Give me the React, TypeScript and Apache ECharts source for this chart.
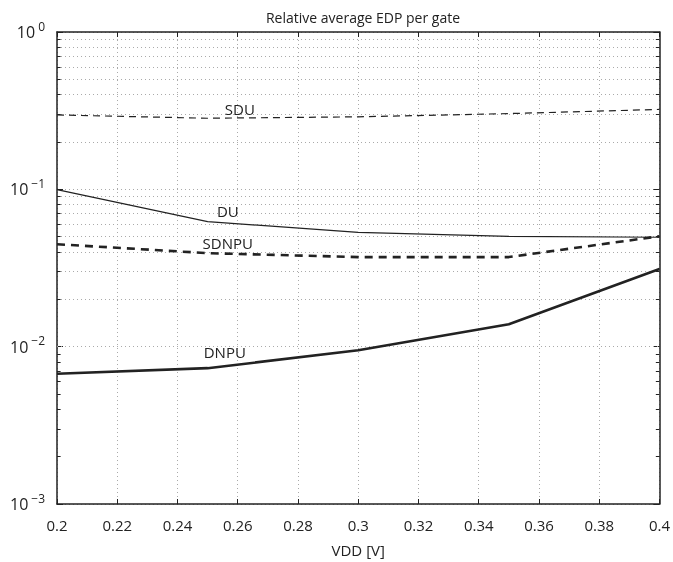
import React, { useEffect, useRef } from "react";
import * as echarts from "echarts";

const vdd = [0.2, 0.25, 0.3, 0.35, 0.4];
const sdu = [0.297, 0.283, 0.289, 0.303, 0.322];
const du = [0.0995, 0.0623, 0.0533, 0.0503, 0.0496];
const sdnpu = [0.0448, 0.0393, 0.0371, 0.0371, 0.0503];
const dnpu = [0.00673, 0.0073, 0.00948, 0.0139, 0.0312];
const minorGridValues = [
  0.002, 0.003, 0.004, 0.005, 0.006, 0.007, 0.008, 0.009,
  0.02, 0.03, 0.04, 0.05, 0.06, 0.07, 0.08, 0.09,
  0.2, 0.3, 0.4, 0.5, 0.6, 0.7, 0.8, 0.9,
];
const seriesNames = ["SDU", "DU", "SDNPU", "DNPU"];
const labelAnchors: [number, number][] = [
  [0.2607, 0.322],
  [0.2567, 0.0723],
  [0.2567, 0.0455],
  [0.2557, 0.0092],
];

const X_MIN = 0.2;
const X_MAX = 0.4;
const FONT = "'Open Sans', 'DejaVu Sans', sans-serif";
const INK = "#222";

export default function App() {
  const ref = useRef<HTMLDivElement>(null);
  useEffect(() => {
    if (!ref.current) return;
    const chart = echarts.init(ref.current, undefined, { renderer: "svg" });
    const pairs = (ys: number[]) => vdd.map((x, i) => [x, ys[i]]);
    const styles = [
      { width: 1.2, type: [7, 5] },
      { width: 1.2, type: "solid" },
      { width: 2.6, type: [8, 6] },
      { width: 2.6, type: "solid" },
    ];
    const values = [sdu, du, sdnpu, dnpu];
    const gridLine = { color: "#aaa", width: 1, type: [1, 3] as number[] };
    const tickLen = (X_MAX - X_MIN) * 0.006;
    const series: any[] = values.map((ys, i) => ({
      name: seriesNames[i],
      type: "line",
      data: pairs(ys),
      showSymbol: false,
      symbol: "none",
      z: 5,
      lineStyle: { color: INK, width: styles[i].width, type: styles[i].type },
      markPoint: {
        silent: true,
        symbol: "circle",
        symbolSize: 1,
        itemStyle: { color: "rgba(0,0,0,0)" },
        label: {
          show: true,
          position: "inside",
          formatter: seriesNames[i],
          color: INK,
          fontFamily: FONT,
          fontSize: 15,
        },
        data: [{ coord: labelAnchors[i] }],
      },
    }));
    series.push({
      type: "line",
      data: [],
      silent: true,
      z: 1,
      markLine: {
        silent: true,
        symbol: ["none", "none"],
        label: { show: false },
        lineStyle: gridLine,
        data: minorGridValues.map((v) => ({ yAxis: v })),
      },
    });
    series.push({
      type: "line",
      data: [],
      silent: true,
      z: 6,
      markLine: {
        silent: true,
        symbol: ["none", "none"],
        label: { show: false },
        lineStyle: { color: INK, width: 1, type: "solid" },
        data: [
          ...minorGridValues.map((v) => [
            { coord: [X_MIN, v] },
            { coord: [X_MIN + tickLen, v] },
          ]),
          ...minorGridValues.map((v) => [
            { coord: [X_MAX - tickLen, v] },
            { coord: [X_MAX, v] },
          ]),
        ],
      },
    });
    chart.setOption({
      animation: false,
      title: {
        text: "Relative average EDP per gate",
        left: 358,
        textAlign: "center",
        top: 5,
        textStyle: { fontFamily: FONT, fontSize: 14, fontWeight: "normal", color: INK },
      },
      grid: { left: 57, right: 12, top: 32, bottom: 54 },
      xAxis: [
        {
          type: "value",
          min: X_MIN,
          max: X_MAX,
          interval: 0.02,
          name: "VDD [V]",
          nameLocation: "middle",
          nameGap: 38,
          nameTextStyle: { fontFamily: FONT, fontSize: 15, color: INK },
          axisLine: { lineStyle: { color: INK, width: 1.5 } },
          axisTick: { inside: true, length: 5, lineStyle: { color: INK } },
          axisLabel: {
            fontFamily: FONT,
            fontSize: 15,
            color: INK,
            margin: 13,
            formatter: (v: number) => String(Math.round(v * 100) / 100),
          },
          splitLine: { show: true, lineStyle: gridLine },
        },
        {
          type: "value",
          position: "top",
          min: X_MIN,
          max: X_MAX,
          interval: 0.02,
          axisLine: { lineStyle: { color: INK, width: 1.5 } },
          axisTick: { inside: true, length: 5, lineStyle: { color: INK } },
          axisLabel: { show: false },
          splitLine: { show: false },
        },
      ],
      yAxis: [
        {
          type: "log",
          logBase: 10,
          min: 0.001,
          max: 1,
          axisLine: { show: true, lineStyle: { color: INK, width: 1.5 } },
          axisTick: { show: true, inside: true, length: 6, lineStyle: { color: INK } },
          axisLabel: {
            margin: 12,
            formatter: (v: number) => {
              const e = Math.round(Math.log10(v));
              return `{b|10}{s|${e < 0 ? "\u2212" + -e : e}}`;
            },
            rich: {
              b: { fontFamily: FONT, fontSize: 16, color: INK, lineHeight: 26 },
              s: { fontFamily: FONT, fontSize: 12, color: INK, padding: [0, 0, 12, 3] },
            },
          },
          splitLine: { show: true, lineStyle: gridLine },
        },
        {
          type: "log",
          logBase: 10,
          min: 0.001,
          max: 1,
          position: "right",
          axisLine: { show: true, lineStyle: { color: INK, width: 1.5 } },
          axisTick: { show: true, inside: true, length: 6, lineStyle: { color: INK } },
          axisLabel: { show: false },
          splitLine: { show: false },
        },
      ],
      series,
    });
    return () => chart.dispose();
  }, []);
  return (
    <div
      ref={ref}
      style={{ position: "fixed", left: 0, top: 0, width: 673, height: 562 }}
    />
  );
}
